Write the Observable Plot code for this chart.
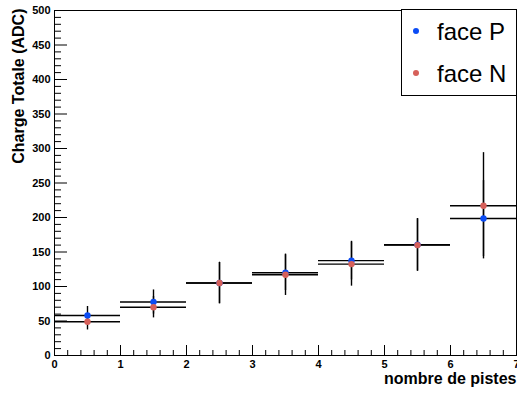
<!DOCTYPE html>
<html><head><meta charset="utf-8">
<script src="https://cdn.jsdelivr.net/npm/d3@7"></script>
<script src="https://cdn.jsdelivr.net/npm/@observablehq/plot@0.6"></script>
<style>
body{margin:0;background:#fff;}
#wrap{position:relative;width:517px;height:396px;overflow:hidden;background:#fff;}
#legend{position:absolute;left:401px;top:9px;width:116px;height:87px;border:1px solid #000;background:#fff;box-sizing:border-box;font-family:'Liberation Sans',Arial,Helvetica,sans-serif;color:#000;}
.item{position:absolute;left:35px;font-size:24px;line-height:24px;white-space:nowrap;}
.mk{position:absolute;left:11px;width:6px;height:6px;border-radius:50%;}
</style></head><body><div id="wrap"></div>
<script>
// bins of "nombre de pistes"
const binLow  = [0, 1, 2, 3, 4, 5, 6];
const binHigh = [1, 2, 3, 4, 5, 6, 7];
// face P
const faceP = [58, 77.5, 105, 120, 137.5, 160.5, 198.5];
const errP  = [13, 17.5, 30, 26, 28, 38, 55];
// face N
const faceN = [49, 70, 105, 117, 132.5, 160, 217];
const errN  = [12, 15.5, 30, 30, 32, 38, 77];
// axis ticks
const xTicks = [0, 1, 2, 3, 4, 5, 6, 7];
const yTicks = [0, 50, 100, 150, 200, 250, 300, 350, 400, 450, 500];
const seriesNames = ["face P", "face N"];
const xTitle = "nombre de pistes";
const yTitle = "Charge Totale (ADC)";

const colorP = "#0b4cf5";
const colorN = "#d6605a";

const xMinor = d3.range(0, 7.0001, 0.2).map(v => +v.toFixed(1)).filter(v => !xTicks.includes(v));
const yMinor = d3.range(0, 501, 10).filter(v => !yTicks.includes(v));

const rows = (vals, errs, name) => binLow.map((lo, i) => ({
  lo, hi: binHigh[i], mid: (lo + binHigh[i]) / 2, v: vals[i], e: errs[i], s: name
}));
const rowsP = rows(faceP, errP, seriesNames[0]);
const rowsN = rows(faceN, errN, seriesNames[1]);

const lineMarks = (data) => [
  Plot.ruleY(data, {y: "v", x1: "lo", x2: "hi", stroke: "#000", strokeWidth: 1.4}),
  Plot.ruleX(data, {x: "mid", y1: d => d.v - d.e, y2: d => d.v + d.e, stroke: "#000", strokeWidth: 1.4})
];

const chart = Plot.plot({
  width: 517,
  height: 396,
  marginLeft: 54,
  marginRight: 1,
  marginTop: 10,
  marginBottom: 41,
  x: {domain: [0, 7]},
  y: {domain: [0, 500]},
  style: {fontFamily: "'Liberation Sans', Arial, Helvetica, sans-serif", fontWeight: "bold", fontSize: "11px", color: "#000", background: "#fff", overflow: "visible"},
  marks: [
    Plot.frame({stroke: "#000"}),
    // inward ticks
    Plot.axisY(yTicks, {tickSize: 13, dx: 13, tickFormat: () => "", label: null}),
    Plot.axisY(yMinor, {tickSize: 7, dx: 7, tickFormat: () => "", label: null}),
    Plot.axisX(xTicks, {tickSize: 10, dy: -10, tickFormat: () => "", label: null}),
    Plot.axisX(xMinor, {tickSize: 5, dy: -5, tickFormat: () => "", label: null}),
    // tick labels
    Plot.axisY(yTicks, {tickSize: 0, tickPadding: 4, fontSize: 11, fontWeight: "bold", label: null}),
    Plot.axisX(xTicks, {tickSize: 0, tickPadding: 5, fontSize: 11, fontWeight: "bold", label: null}),
    // titles
    Plot.text([yTitle], {frameAnchor: "top-left", rotate: -90, textAnchor: "end", dx: -42, dy: -2, fontSize: 16, fontWeight: "bold"}),
    Plot.text([xTitle], {frameAnchor: "bottom-right", textAnchor: "end", dy: 28, fontSize: 16, fontWeight: "bold"}),
    // data
    ...lineMarks(rowsP),
    ...lineMarks(rowsN),
    Plot.dot(rowsP, {x: "mid", y: "v", r: 3.2, fill: colorP, stroke: null}),
    Plot.dot(rowsN, {x: "mid", y: "v", r: 3.2, fill: colorN, stroke: null})
  ]
});

const wrap = document.getElementById("wrap");
wrap.appendChild(chart);

const legend = document.createElement("div");
legend.id = "legend";
const colors = [colorP, colorN];
seriesNames.forEach((name, i) => {
  const mk = document.createElement("span");
  mk.className = "mk";
  mk.style.top = (18 + i * 42) + "px";
  mk.style.background = colors[i];
  legend.appendChild(mk);
  const t = document.createElement("span");
  t.className = "item";
  t.style.top = (10 + i * 42) + "px";
  t.textContent = name;
  legend.appendChild(t);
});
wrap.appendChild(legend);
</script>
</body></html>
